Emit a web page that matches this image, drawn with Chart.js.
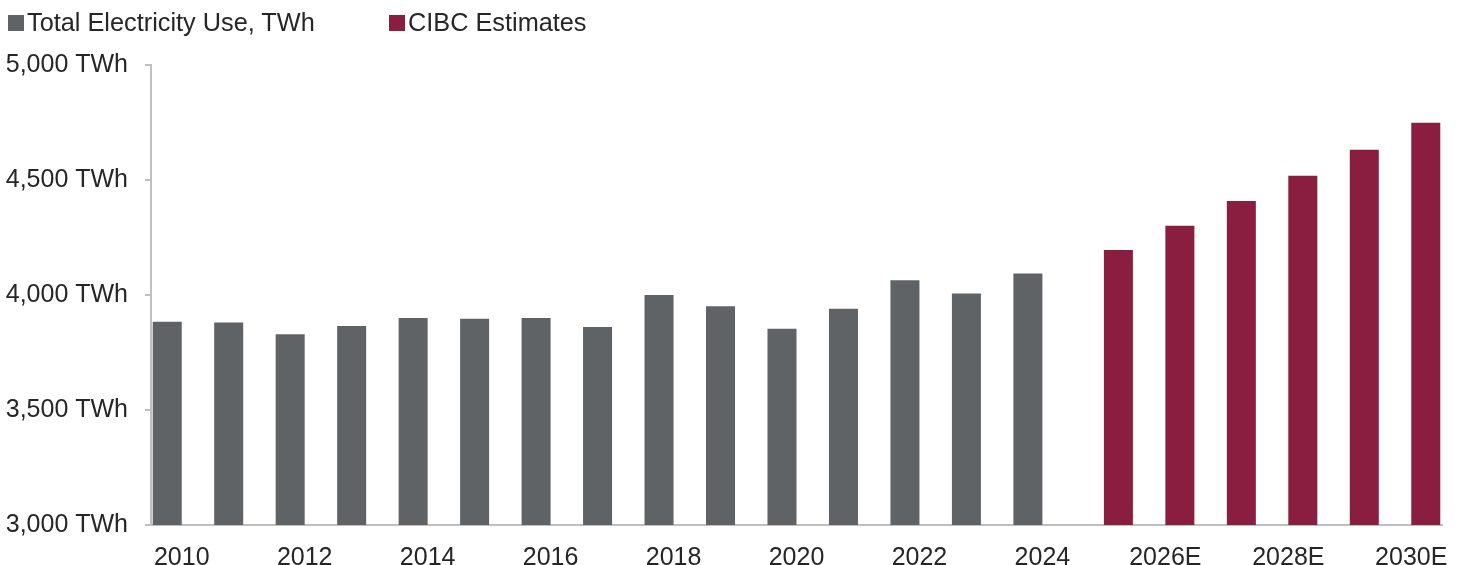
<!DOCTYPE html>
<html>
<head>
<meta charset="utf-8">
<script src="https://cdn.jsdelivr.net/npm/chart.js@4.4.1/dist/chart.umd.min.js"></script>
<style>
html, body { margin: 0; padding: 0; background: #fff; }
#wrap { position: relative; width: 1463px; height: 565px; }
.legend_item { position: absolute; top: 8px; display: flex; align-items: center;
  font: 25.3px "Liberation Sans", Arial, sans-serif; color: #262626; white-space: nowrap; }
.legend_box { width: 16px; height: 16px; margin-right: 3px; }
</style>
</head>
<body>
<div id="wrap">
  <canvas id="electricity_chart" width="1463" height="565"></canvas>
  <div class="legend_item" style="left:8px"><span class="legend_box" id="box_total"></span><span id="label_total"></span></div>
  <div class="legend_item" style="left:389px"><span class="legend_box" id="box_est"></span><span id="label_est"></span></div>
</div>
<script>
// categories (2025E-2030E are CIBC forecasts)
const year_labels = ['2010', '2011', '2012', '2013', '2014', '2015', '2016', '2017', '2018', '2019',
  '2020', '2021', '2022', '2023', '2024', '2025E', '2026E', '2027E', '2028E', '2029E', '2030E']

// Total electricity use, TWh (actuals)
const total_use_twh = [3884, 3880, 3829, 3865, 3900, 3897, 3900, 3861, 4000, 3951,
  3853, 3940, 4064, 4007, 4094, null, null, null, null, null, null]

// CIBC estimates, TWh
const cibc_estimates_twh = [null, null, null, null, null, null, null, null, null, null,
  null, null, null, null, null, 4196, 4301, 4409, 4519, 4632, 4749]

const y_ticks = [3000, 3500, 4000, 4500, 5000]

const series_names = ['Total Electricity Use, TWh', 'CIBC Estimates']
const grey_colour = '#5f6366'
const red_colour  = '#8a1e41'
const axis_colour = '#bfbfbf'
const text_colour = '#262626'
const font_family = '"Liberation Sans", Arial, sans-serif'

document.getElementById('box_total').style.background = grey_colour
document.getElementById('box_est').style.background = red_colour
document.getElementById('label_total').textContent = series_names[0]
document.getElementById('label_est').textContent = series_names[1]

const ctx = document.getElementById('electricity_chart').getContext('2d');

new Chart(ctx, {
  type: 'bar',
  data: {
    labels: year_labels,
    datasets: [
      {
        label: series_names[0],
        data: total_use_twh,
        backgroundColor: grey_colour,
        categoryPercentage: 0.944,
        barPercentage: 1.0
      },
      {
        label: series_names[1],
        data: cibc_estimates_twh,
        backgroundColor: red_colour,
        categoryPercentage: 0.944,
        barPercentage: 1.0
      }]
  },
  options: {
    responsive: false,
    animation: false,
    layout: { padding: { top: 65, right: 21, left: 0, bottom: 0 } },
    plugins: {
      legend: { display: false },
      tooltip: { enabled: false }
    },
    scales: {
      x: {
        grid: { display: false, drawTicks: false },
        border: { display: true, color: axis_colour, width: 2 },
        ticks: {
          autoSkip: false,
          maxRotation: 0,
          padding: 18,
          color: text_colour,
          font: { family: font_family, size: 25 },
          callback: (value, index) => index % 2 === 0 ? year_labels[index] : ''
        },
        afterFit: (scale) => {
          scale.height = 40
          // let the last label hang into the right margin
          scale.paddingRight = 0
          scale.paddingLeft = 0
        }
      },
      y: {
        min: y_ticks[0],
        max: y_ticks[y_ticks.length - 1],
        afterBuildTicks: (scale) => { scale.ticks = y_ticks.map(v => ({ value: v })) },
        grid: { drawOnChartArea: false, drawTicks: true, tickLength: 6, color: axis_colour, lineWidth: 2 },
        border: { display: true, color: axis_colour, width: 2 },
        ticks: {
          padding: 17,
          color: text_colour,
          font: { family: font_family, size: 25 },
          callback: (value) => value.toLocaleString('en-US') + ' TWh'
        },
        afterFit: (scale) => { scale.width = 151 }
      }
    }
  }
});
</script>
</body>
</html>
